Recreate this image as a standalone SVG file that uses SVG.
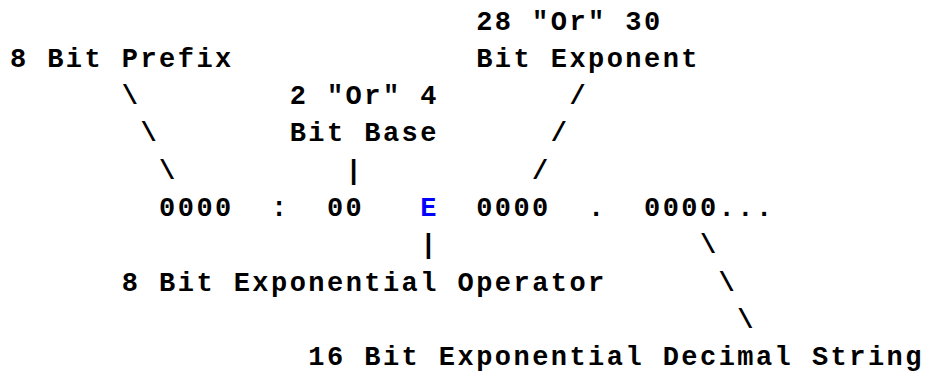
<svg xmlns="http://www.w3.org/2000/svg" width="929" height="375" viewBox="0 0 929 375">
<style>
text{font-family:"Liberation Mono","Courier New",monospace;font-weight:bold;font-size:27px;letter-spacing:2.45px;fill:#000;white-space:pre}
.op{fill:#0000ff}
</style>
<rect width="929" height="375" fill="#fff"/>
<g id="connectors">
<text x="121.8" y="104.1">\</text>
<text x="140.45" y="141.4">\</text>
<text x="159.1" y="178.7">\</text>
<text x="345.6" y="178.7">|</text>
<text x="569.4" y="104.1">/</text>
<text x="550.75" y="141.4">/</text>
<text x="532.1" y="178.7">/</text>
<text x="420.2" y="253.3">|</text>
<text x="699.95" y="253.3">\</text>
<text x="718.6" y="290.6">\</text>
<text x="737.25" y="327.9">\</text>
</g>
<g id="label-prefix"><text x="9.9" y="66.8">8 Bit Prefix</text></g>
<g id="label-base"><text x="289.65" y="104.1">2 "Or" 4</text><text x="289.65" y="141.4">Bit Base</text></g>
<g id="label-exponent"><text x="476.15" y="29.5">28 "Or" 30</text><text x="476.15" y="66.8">Bit Exponent</text></g>
<g id="number">
<text x="159.1" y="216">0000</text>
<text x="271" y="216">:</text>
<text x="326.95" y="216">00</text>
<text class="op" x="420.2" y="216">E</text>
<text x="476.15" y="216">0000</text>
<text x="588.05" y="216">.</text>
<text x="644" y="216">0000...</text>
</g>
<g id="label-operator"><text x="121.8" y="290.6">8 Bit Exponential Operator</text></g>
<g id="label-decimal"><text x="308.3" y="365.2">16 Bit Exponential Decimal String</text></g>
</svg>
